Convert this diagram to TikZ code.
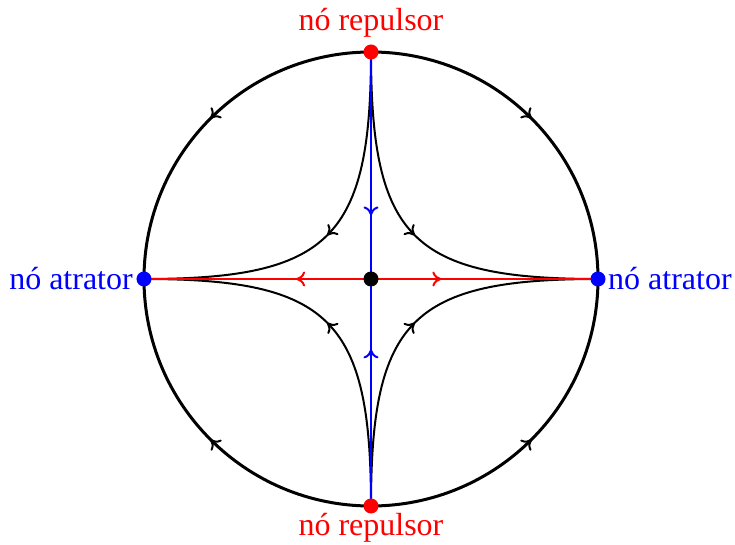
\documentclass[tikz,border=0pt]{standalone}
\usepackage{fontspec}
\setmainfont{Liberation Serif}
\usetikzlibrary{decorations.markings,arrows.meta}
\begin{document}
\begin{tikzpicture}[x=1pt,y=1pt,
  orbit/.style={line width=3pt},
  flow/.style={line width=2pt},
  arrowat/.style={postaction={decorate},decoration={markings,mark=at position #1 with {\arrow[scale=1]{Computer Modern Rightarrow[length=9pt,width=15pt,line width=2pt]}}}},
  dot/.style={circle,inner sep=0pt,minimum size=15pt},
  lbl/.style={font=\fontsize{32}{38}\selectfont}
]
\useasboundingbox (-371,-266) rectangle (364,279);
\coordinate (O) at (0,0);
\coordinate (T) at (0,227);
\coordinate (B) at (0,-227);
\coordinate (L) at (-227,0);
\coordinate (R) at (227,0);
% circle arcs
\draw[orbit,arrowat=0.5] (T) arc[start angle=90,end angle=180,radius=227pt];
\draw[orbit,arrowat=0.5] (T) arc[start angle=90,end angle=0,radius=227pt];
\draw[orbit,arrowat=0.5] (B) arc[start angle=270,end angle=180,radius=227pt];
\draw[orbit,arrowat=0.5] (B) arc[start angle=270,end angle=360,radius=227pt];
% inner curves
\draw[flow,arrowat=0.5] (T) .. controls (0,41) and (-41,0) .. (L);
\draw[flow,arrowat=0.5] (T) .. controls (0,41) and (41,0) .. (R);
\draw[flow,arrowat=0.5] (B) .. controls (0,-41) and (-41,0) .. (L);
\draw[flow,arrowat=0.5] (B) .. controls (0,-41) and (41,0) .. (R);
% separatrices
\draw[flow,blue,arrowat=0.72] (T) -- (O);
\draw[flow,blue,arrowat=0.69] (B) -- (O);
\draw[flow,red,arrowat=0.33] (O) -- (L);
\draw[flow,red,arrowat=0.31] (O) -- (R);
% dots
\node[dot,fill=red] (top) at (T) {};
\node[dot,fill=red] (bot) at (B) {};
\node[dot,fill=blue] (lft) at (L) {};
\node[dot,fill=blue] (rgt) at (R) {};
\node[dot,fill=black] (ctr) at (O) {};
% labels
\node[lbl,red,anchor=base] (toplbl) at (0,248) {nó repulsor};
\node[lbl,red,anchor=base] (botlbl) at (0,-256) {nó repulsor};
\node[lbl,blue,anchor=base east,inner sep=0pt] (lftlbl) at (-238,-11) {nó atrator};
\node[lbl,blue,anchor=base west,inner sep=0pt] (rgtlbl) at (237,-11) {nó atrator};
\end{tikzpicture}
\end{document}
